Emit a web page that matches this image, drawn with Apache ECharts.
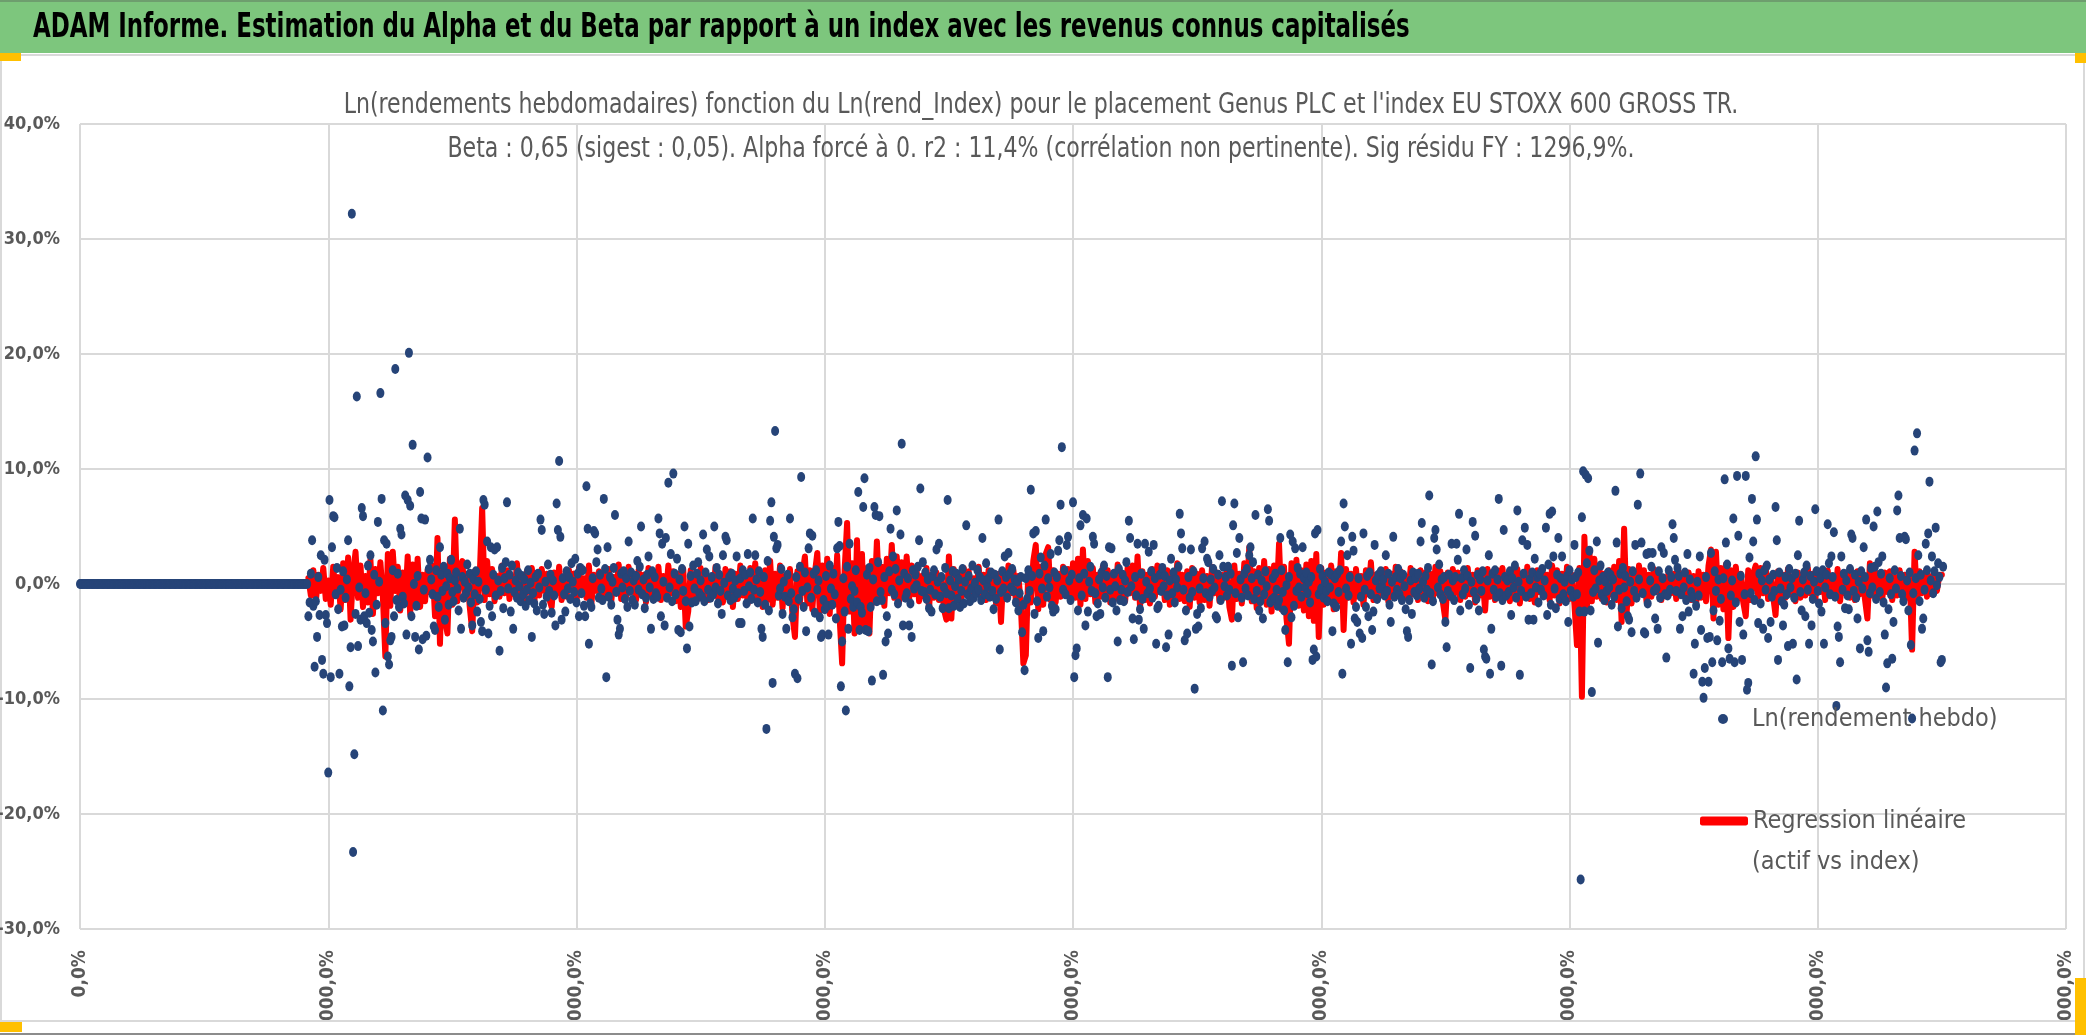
<!DOCTYPE html>
<html><head><meta charset="utf-8">
<script src="https://cdn.jsdelivr.net/npm/echarts/dist/echarts.min.js"></script>
<style>
html,body{margin:0;padding:0;background:#fff;width:2086px;height:1035px;overflow:hidden;}
#chart{position:absolute;left:0;top:0;width:2086px;height:1035px;}
#foot{position:absolute;left:0;top:1020px;width:2086px;height:15px;background:#fff;border-top:2px solid #D9D9D9;border-bottom:2px solid #8C8C8C;box-sizing:border-box;z-index:5;}
#ybl{position:absolute;left:0;top:1022px;width:22px;height:10px;background:#FFC000;z-index:6;}
#ybr{position:absolute;left:2075px;top:978px;width:11px;height:57px;background:#FFC000;z-index:6;}
</style></head><body>
<div id="chart"></div><div id="foot"></div><div id="ybl"></div><div id="ybr"></div>
<script>
const titreBandeau = "ADAM Informe. Estimation du Alpha et du Beta par rapport à un index avec les revenus connus capitalisés";
const sousTitre1 = "Ln(rendements hebdomadaires) fonction du Ln(rend_Index) pour le placement Genus PLC et l'index EU STOXX 600 GROSS TR.";
const sousTitre2 = "Beta : 0,65 (sigest : 0,05). Alpha forcé à 0. r2 : 11,4% (corrélation non pertinente). Sig résidu FY : 1296,9%.";
const nomPoints = "Ln(rendement hebdo)";
const nomRegression = "Regression linéaire (actif vs index)";
const yTicks = [-0.3, -0.2, -0.1, 0, 0.1, 0.2, 0.3, 0.4];
const xTicks = [0, 200, 400, 600, 800, 1000, 1200, 1400, 1600];

// Ln(rendement hebdo) en %, semaine 0 à 1501
const lnRendement = [
0,0,0,0,0,0,0,0,0,0,0,0,0,0,0,0,0,0,0,0,0,0,0,
0,0,0,0,0,0,0,0,0,0,0,0,0,0,0,0,0,0,0,0,0,0,0,
0,0,0,0,0,0,0,0,0,0,0,0,0,0,0,0,0,0,0,0,0,0,0,
0,0,0,0,0,0,0,0,0,0,0,0,0,0,0,0,0,0,0,0,0,0,0,
0,0,0,0,0,0,0,0,0,0,0,0,0,0,0,0,0,0,0,0,0,0,0,
0,0,0,0,0,0,0,0,0,0,0,0,0,0,0,0,0,0,0,0,0,0,0,
0,0,0,0,0,0,0,0,0,0,0,0,0,0,0,0,0,0,0,0,0,0,0,
0,0,0,0,0,0,0,0,0,0,0,0,0,0,0,0,0,0,0,0,0,0,0,
-2.8,-1.6,0.9,3.8,-1.9,-7.2,-1.5,-4.6,0.6,-2.7,2.5,-6.6,-7.8,2.1,-2.7,-3.4,-16.4,7.3,-8.1,3.2,
5.9,5.8,-0.9,1.4,-2.2,-7.8,-0.5,-3.7,1.1,-3.6,-1.2,0.4,3.8,-8.9,-5.5,32.2,-23.3,-14.8,-2.6,16.3,
-5.4,-0.3,-3.1,6.6,5.9,-2.8,-0.8,-3.4,1.6,-2.5,2.5,-4.0,-5.0,0.8,-7.7,-1.8,5.4,0.2,16.6,7.4,
-11.0,3.8,-3.4,3.5,-6.3,-7.0,-4.9,-4.6,1.2,-2.8,18.7,-1.4,0.9,-2.0,4.8,4.3,-1.1,-1.7,7.7,-4.4,
7.3,20.1,6.8,-2.8,12.1,0.0,-4.6,-1.9,0.7,-5.7,8.0,5.7,-4.8,-0.5,5.6,-4.5,11.0,1.3,2.1,0.4,
-0.9,-3.7,-4.0,1.2,-1.1,-2.0,3.2,0.8,-0.6,1.5,-3.1,-0.2,0.9,-1.8,0.5,2.1,-0.7,-1.5,0.3,1.0,
-0.4,-2.3,4.8,-3.9,0.6,-1.2,0.2,-0.8,1.7,-0.3,0.9,-1.6,-3.6,0.4,-0.9,1.1,-2.4,0.2,-1.3,-3.3,
-4.1,7.3,6.9,-0.5,3.7,-4.3,-1.9,3.2,-2.8,0.8,3.0,-1.0,3.2,0.3,-5.8,-0.6,1.4,-2.1,0.5,1.9,
7.1,-0.4,0.8,-2.4,1.6,-3.9,-0.7,0.3,-1.2,1.0,-0.2,-1.5,0.7,-0.9,0.4,-1.9,-0.5,1.2,-1.4,0.1,
-4.6,-0.8,-1.7,0.6,-2.3,0.9,-0.3,5.6,4.7,-1.8,-2.6,0.2,-1.1,1.7,-0.6,0.8,-2.5,0.3,-1.0,-3.6,
7.0,4.7,10.7,4.1,-3.1,0.5,-0.9,-2.4,1.1,-0.4,0.6,-1.3,1.8,0.2,-0.7,2.2,-1.6,0.9,-2.8,1.4,
-0.8,1.2,-1.9,-2.8,8.5,4.8,-5.2,-1.7,-2.0,0.5,4.6,4.4,1.9,3.0,-1.2,0.8,-0.4,-1.4,7.4,1.3,
-8.1,3.2,-1.1,0.6,-1.8,0.2,1.4,6.0,-0.7,-3.1,-4.4,-3.9,0.9,-0.3,1.1,-1.3,0.5,-2.0,3.7,-0.6,
1.0,-1.4,0.3,-1.8,0.7,2.0,-0.5,1.5,5.0,-0.9,0.4,-2.1,-1.2,0.8,2.4,-0.3,-3.9,1.1,-1.3,0.6,
-0.8,-1.1,5.7,4.4,-2.8,3.5,0.2,-3.6,4.0,-1.2,8.8,-0.3,2.6,-1.5,9.6,0.9,-0.9,2.2,-4.0,0.4,
-4.2,1.3,-0.6,5.0,-1.5,-5.6,3.5,-3.7,0.7,-1.6,1.6,-0.4,-1.5,0.9,1.9,-0.8,0.3,-1.1,4.3,-1.5,
1.0,3.0,-0.5,2.4,-1.2,0.6,-0.9,5.0,-0.3,1.4,-1.7,0.8,-0.6,-2.6,2.5,0.1,4.1,3.8,-1.0,0.6,
-1.4,0.9,-0.4,-1.2,0.3,2.4,-0.8,-3.4,0.5,-3.4,1.2,-0.6,0.8,-1.7,2.6,-0.2,1.0,-1.3,5.7,-0.5,
2.5,0.4,-1.6,1.1,-0.7,-3.9,-4.6,0.6,-1.8,-12.6,2.0,-2.3,5.5,7.1,-8.6,4.1,13.3,3.1,3.4,-1.0,
-0.4,1.3,-2.6,0.2,-1.1,-3.9,0.8,-1.5,5.7,-0.8,-2.9,-2.2,-7.8,0.6,-8.2,-1.3,1.5,9.3,-0.6,-2.0,
1.0,-4.1,-0.3,3.1,4.4,-1.2,4.2,0.9,-2.5,1.2,-0.5,0.3,-2.9,-4.6,-4.4,-1.4,-2.2,0.7,-1.9,-4.4,
1.6,-0.4,-1.8,0.9,-0.9,-3.0,3.1,5.4,3.3,-8.9,-5.0,0.5,-2.4,-11.0,1.5,-3.9,3.5,-1.3,-0.2,-2.0,
-0.6,1.2,-1.6,8.0,-4.0,-2.0,-2.5,6.7,9.2,-4.0,0.8,-4.1,1.4,-2.0,-8.4,0.4,6.7,6.0,-1.5,1.9,
5.9,-0.7,-1.4,-7.9,0.6,-5.0,-2.8,-4.3,1.1,4.8,-0.5,2.4,-0.9,1.3,6.4,-1.7,0.3,4.3,12.2,-3.6,
0.9,-1.2,-0.8,0.5,-3.6,-1.7,-4.6,1.2,-0.4,0.8,-0.1,1.5,3.8,8.3,-0.6,1.9,-0.7,1.0,-1.3,0.4,
-2.1,-0.5,-2.4,0.7,1.2,-0.9,3.0,0.2,3.5,-1.1,0.6,-2.1,-0.3,1.4,-0.8,7.3,-2.1,0.3,-1.0,1.1,
-1.9,-0.2,0.9,-1.3,0.4,-2.0,-0.6,1.3,-1.7,0.2,5.1,-0.9,0.7,-1.5,-0.4,1.6,-1.2,0.1,-0.8,1.2,
-0.5,0.6,-1.4,4.0,0.3,-0.9,1.8,-0.2,0.5,-1.1,1.0,-0.6,-2.2,0.8,-1.3,0.3,5.6,-5.7,-0.7,1.1,
-0.4,2.4,0.6,-1.2,2.7,0.9,-0.3,1.3,-0.6,0.4,-1.6,0.2,-2.3,-0.8,0.6,-4.2,-1.8,-7.5,0.5,-1.3,
1.2,-0.6,8.2,0.7,4.4,-2.6,4.6,-1.5,-4.7,0.9,2.3,-0.4,-4.1,1.6,5.6,-1.1,0.5,-0.3,2.6,-1.9,
-2.4,1.0,-2.2,0.6,2.9,3.8,6.9,11.9,-0.5,1.2,-0.9,3.4,4.1,0.3,-1.4,0.8,7.1,-8.1,-6.2,-5.6,
-2.3,0.5,5.1,-1.0,6.0,0.9,-3.6,5.7,-2.4,0.2,1.5,-0.6,4.1,3.5,-0.8,-2.8,-1.7,0.4,-2.6,1.0,
-0.3,1.6,-1.2,0.7,-8.1,3.2,-0.5,3.1,-1.6,0.9,-0.2,-2.3,-5.0,1.3,-1.4,-0.5,0.8,-1.5,0.3,1.9,
-0.7,5.5,4.0,-0.2,-3.0,-4.8,0.6,-1.0,3.5,-3.1,-2.2,0.9,-1.3,-3.9,3.5,0.2,-0.8,2.8,-0.4,1.1,
-1.2,3.4,0.5,-5.2,-2.1,-1.9,0.8,-0.6,1.4,-0.2,0.7,-5.5,-1.0,-4.4,0.3,2.2,-0.8,1.0,-1.6,0.4,
-0.3,1.5,6.1,4.4,3.1,-0.5,-4.9,-2.3,-4.3,0.6,-1.2,3.0,-0.7,1.1,-9.1,-3.9,-2.6,-3.7,-0.4,-2.1,
3.1,0.5,3.7,-0.8,2.2,1.9,-1.1,0.4,-0.6,1.3,-0.3,-2.8,-3.0,0.8,2.5,-1.4,7.2,1.5,-0.2,0.6,
-1.0,1.5,-0.5,0.9,-7.1,5.1,7.0,-0.8,2.7,-2.9,4.0,0.4,-1.2,-6.8,0.9,-0.4,1.3,-1.0,2.5,3.2,
0.5,1.9,-1.3,6.0,-0.6,0.8,-2.3,-1.5,0.3,-3.0,-0.9,1.1,-0.2,6.5,5.5,-1.6,-1.4,0.5,-1.2,0.9,
-0.5,-1.9,-1.4,4.0,1.2,-0.7,-2.3,-4.0,-0.1,-6.8,0.6,4.3,-2.9,3.7,-1.9,3.1,-0.6,1.4,-0.3,0.9,
-1.1,3.2,0.5,-0.3,1.0,-0.8,0.2,-1.6,0.6,-6.6,-5.7,4.4,-6.3,4.7,-0.9,1.3,-0.4,0.7,-1.2,0.2,
-0.6,-1.5,1.0,-0.3,0.8,-4.1,-1.7,0.5,-2.0,0.9,-0.7,1.2,3.7,-7.8,7.0,5.0,-0.4,2.5,-1.0,0.6,
-5.2,4.1,2.9,-3.0,-2.0,-3.3,0.5,-4.3,-1.1,-4.7,4.4,-0.5,-2.0,0.7,-2.8,1.0,-0.9,-4.0,-2.4,3.4,
0.3,-1.3,0.8,-0.4,1.1,-0.2,0.4,-1.0,2.5,-0.6,0.9,-1.8,-3.3,0.2,4.1,-1.1,0.6,-0.5,1.3,-0.9,
0.5,-1.4,0.8,-0.2,-2.2,-4.1,-4.6,-1.4,0.3,-2.6,1.0,-0.7,0.5,-1.0,0.9,-0.4,3.7,5.3,0.2,-1.2,
0.7,-0.5,1.4,7.7,-0.8,-7.0,-1.5,4.0,4.7,3.0,-0.3,1.7,-0.9,0.4,-1.3,0.6,-3.3,-5.5,-0.6,0.8,
-1.0,3.5,0.3,-1.4,0.6,3.5,2.1,6.1,-2.3,0.5,-0.9,1.2,-0.4,3.0,0.7,-1.8,-7.3,0.2,5.4,-0.7,
4.2,-1.3,0.8,-2.3,0.4,-0.6,1.1,-5.7,-6.3,-6.5,0.3,2.5,-7.8,-3.9,0.9,-0.5,1.2,-1.1,0.4,7.4,
-0.8,-7.1,-1.4,4.7,0.6,-1.0,0.3,-0.7,1.1,-2.7,0.5,-0.3,1.6,-1.2,6.4,0.2,-7.9,-0.6,3.8,0.9,
4.9,-1.1,3.4,-3.1,0.4,-0.8,1.0,-3.1,2.2,-0.3,0.6,-1.6,0.9,-0.5,1.3,-1.0,0.3,4.9,-2.7,1.7,
6.1,-1.8,6.3,2.4,-0.4,-2.1,0.8,4.0,-1.3,0.5,2.4,-0.9,0.2,-1.5,0.7,-3.3,1.2,-0.6,0.4,-1.1,
3.4,0.6,-0.9,1.0,-2.4,-25.7,5.8,9.8,-2.4,9.5,1.8,9.2,2.9,-2.3,-9.4,-0.7,1.2,-0.4,3.7,-5.1,
0.3,1.6,-0.9,0.6,-1.4,0.2,-0.6,1.0,-0.3,0.8,-1.8,0.4,-1.1,8.1,3.6,-3.7,-0.5,0.9,-2.1,1.4,
-0.3,0.7,-1.5,-2.8,-3.1,0.2,-4.2,1.1,-0.6,3.4,-1.2,6.9,0.4,9.6,3.6,-0.8,-4.2,-4.3,2.6,-1.7,
2.7,0.3,1.5,2.7,-0.6,-3.0,-0.4,-3.9,1.1,-1.2,3.2,0.5,2.7,-0.9,-6.4,-1.0,1.2,-0.5,0.6,5.2,
4.0,2.1,-0.6,1.4,0.7,-3.9,-0.9,-2.8,-0.3,1.0,-1.4,2.6,-2.4,0.4,-0.7,-1.2,-7.8,-5.2,-1.9,0.2,
-1.0,2.4,-4.0,-8.5,-9.9,-7.3,0.6,-4.7,-8.5,-4.6,2.7,-6.8,-2.3,1.1,-0.6,-4.9,0.4,-3.2,-1.3,-6.8,
0.5,9.1,3.6,1.7,-5.6,-6.5,-1.0,0.3,5.7,-6.8,-1.6,9.4,4.2,-3.3,0.7,-6.6,-4.4,-0.9,9.4,-9.2,
-8.6,2.3,-0.8,7.4,3.7,-1.4,11.1,5.6,-3.4,0.9,-1.7,0.3,-3.9,1.2,-0.5,1.6,-4.7,0.4,-3.3,-1.1,
0.8,-0.6,6.7,3.8,-6.6,1.0,-0.4,-1.5,-3.6,-1.8,0.6,-0.9,-5.4,1.3,-0.3,0.5,-5.2,-1.2,0.9,-8.3,
2.5,5.5,-0.7,-2.3,0.4,1.0,-2.8,1.6,-0.5,-5.2,0.7,-3.6,-1.3,0.2,6.5,1.1,-0.6,-1.7,0.5,-2.4,
1.2,-5.2,-0.3,0.8,5.2,1.8,-0.9,2.4,0.6,4.5,-1.1,-10.6,-3.7,-4.6,-6.8,2.4,-0.5,0.9,-2.1,0.3,
-1.0,-2.2,1.3,4.3,4.0,-0.6,0.8,-1.2,-3.0,0.2,-5.6,1.1,-0.4,3.2,0.6,5.6,-4.9,-5.9,-0.8,1.4,
-0.3,5.0,1.5,-1.3,6.3,1.9,-0.7,0.9,2.4,-1.6,-4.4,-9.0,-6.9,-2.2,0.5,-0.9,-6.5,-3.3,1.2,-0.4,
6.4,7.7,4.0,0.7,-0.9,-1.5,4.1,3.9,0.3,-2.3,1.0,-5.3,-11.7,-0.8,11.6,0.5,13.1,2.5,-1.5,0.8,
-3.9,-3.0,-0.5,3.5,1.2,4.4,8.9,0.3,2.4,-0.8,1.1,4.9,-0.1,1.8,0.6,-6.8,-6.6,1.5
];

// Régression linéaire (beta x Ln(rend_Index)) en %, une valeur toutes les 2 semaines à partir de la semaine 184
const regressionDebut = 184;
const regressionPas = 2;
const regression = [
0.5,-1.0,1.2,-1.5,0.8,-0.6,1.4,-1.3,0.3,-1.8,1.5,-0.9,0.6,-2.2,1.8,-1.4,2.3,-3.1,0.9,2.8,
-1.2,1.6,-2.0,0.7,-1.6,2.1,-2.6,1.3,-0.8,1.9,-1.1,-6.3,2.6,-1.9,2.8,-0.6,1.5,-2.3,1.0,-1.7,
2.4,-2.6,1.7,-1.4,2.2,-2.0,0.8,-1.5,1.2,-0.7,1.6,-2.8,4.0,-5.2,1.5,-3.0,-4.3,2.2,-1.8,5.6,
-1.5,1.4,2.0,-1.2,0.9,-2.0,-4.1,1.1,-1.6,0.6,6.6,-1.4,2.0,-0.9,1.3,-1.5,0.7,-1.1,1.6,-0.8,
1.2,-1.3,0.6,-0.9,1.8,-1.2,0.5,-1.5,1.1,-0.7,1.4,-1.6,0.8,-1.0,1.3,-0.6,0.9,-1.3,-2.0,1.0,
-0.8,1.5,-1.4,0.6,-1.1,1.2,-0.5,0.9,-1.6,1.4,-0.9,0.5,-1.2,1.6,-1.7,0.8,-0.6,1.1,-1.4,0.7,
-1.0,1.3,-1.5,0.6,-0.8,1.7,-1.3,0.4,-1.1,1.5,-0.7,0.9,-1.4,1.2,-0.5,0.8,-1.6,1.4,-0.9,0.6,
-1.2,1.5,-1.4,0.7,-1.0,1.6,-0.8,1.1,-1.5,0.9,-2.0,1.3,-3.7,-2.4,1.2,-1.1,0.8,-1.3,1.4,-0.7,
1.0,-1.4,0.6,-0.9,1.5,-1.2,0.7,-1.6,1.3,-0.8,1.1,-2.0,0.9,-1.3,1.6,-1.0,0.5,-1.7,1.4,-0.9,
1.8,-1.5,0.8,-2.0,1.2,-1.4,2.0,-1.8,0.9,-1.2,1.6,-2.1,0.7,-1.5,1.3,-2.8,-4.6,1.1,-1.6,0.8,
2.4,-1.7,1.2,-2.2,0.9,2.7,-2.4,1.6,-2.0,2.2,-2.6,1.4,-1.8,2.5,-3.0,-6.9,1.2,5.3,-2.4,1.8,
-4.3,3.8,-3.5,2.6,-4.0,1.4,-4.3,2.0,-1.6,3.7,-1.3,1.5,-1.9,2.2,-0.8,3.4,-1.2,2.4,-1.5,1.9,
-1.0,2.4,-1.3,1.6,-0.9,1.2,-1.5,0.7,-1.1,1.4,-2.1,0.8,-1.2,1.0,-1.4,0.6,-2.2,-3.1,2.4,-3.0,
1.3,-1.2,0.9,-1.5,1.4,-0.7,1.1,-1.3,0.5,-0.9,1.5,-1.1,0.8,-1.4,1.2,-0.6,1.0,-1.7,0.9,-3.3,
1.1,-1.3,1.6,-0.8,1.2,-1.5,0.7,-1.9,-6.9,-6.2,1.3,-1.6,2.0,3.4,-2.2,1.5,-1.8,2.6,3.2,-1.4,
1.2,-1.6,0.9,-1.1,1.5,-0.8,1.3,-1.5,1.8,-1.2,2.2,-1.8,3.0,-1.3,2.0,-0.9,1.4,-1.6,0.8,-1.1,
1.5,-0.9,1.2,-1.6,0.7,-1.3,1.7,-1.0,0.9,-1.5,1.4,-0.8,1.6,-1.2,2.4,-2.0,1.1,-1.4,0.8,-1.7,
1.3,-1.1,1.6,-0.7,0.9,-1.4,1.2,-1.8,0.6,-1.0,1.8,-1.3,0.8,-1.5,1.1,-2.0,1.4,-1.2,0.9,-1.6,
1.2,-1.4,0.7,-1.9,1.5,-0.8,1.0,-1.5,0.8,-1.2,1.3,-2.0,-3.1,1.6,-1.3,0.9,-1.7,1.8,-1.0,3.2,
-1.5,1.1,-2.1,1.4,-1.2,2.0,-1.8,1.3,-2.4,1.6,-1.4,3.5,-2.2,1.5,-3.0,-5.2,1.8,-1.6,2.1,-1.9,
1.2,-2.3,1.7,-2.8,2.0,-3.2,2.6,-4.6,1.4,-1.8,1.0,-1.4,1.6,-2.2,1.1,-1.5,2.7,-4.0,1.3,-1.2,
0.9,-1.6,1.3,-1.1,0.7,-1.8,1.2,-0.9,1.9,-1.4,0.8,-1.2,1.1,-0.6,1.3,-1.5,0.9,-1.0,1.5,-0.8,
1.1,-1.3,0.6,-1.1,1.4,-0.9,0.8,-1.4,1.2,-0.7,1.0,-1.5,0.9,-1.2,1.5,-0.8,1.1,-1.6,-3.1,1.0,
-1.2,1.3,-0.8,1.0,-1.4,0.7,-1.1,1.4,-0.9,0.8,-1.6,1.2,-1.0,0.6,-2.3,1.3,-1.1,0.9,-1.4,1.2,
-0.8,1.4,-1.2,0.7,-1.5,1.1,-0.9,1.3,-1.7,0.8,-1.0,1.5,-1.3,0.9,-1.6,1.2,-0.7,1.4,-1.1,0.8,
-1.4,1.6,-1.0,1.2,-1.7,0.9,-1.2,1.5,-1.3,0.8,-1.8,-5.3,1.4,-9.8,4.1,-2.0,2.9,-1.5,2.2,-1.1,
1.6,-1.3,0.9,-1.6,1.2,-0.9,1.5,-1.4,2.0,-3.3,4.8,-2.6,1.3,-1.7,1.0,-1.2,1.6,-0.9,1.2,-1.5,
0.8,-1.1,1.3,-0.7,1.0,-1.4,0.6,-1.0,1.2,-0.8,0.9,-1.3,1.1,-0.6,0.8,-1.2,1.0,-1.4,0.7,-1.7,
1.1,-1.2,0.8,-1.5,1.6,3.0,-3.0,2.8,-1.8,1.4,-2.2,1.7,-4.7,1.2,-2.0,1.5,-1.3,0.9,-1.6,-2.8,
1.2,-1.4,0.9,1.6,-1.1,1.4,-0.8,1.6,-1.3,0.7,-1.0,-2.7,1.1,-1.4,0.8,-1.2,1.3,-0.9,0.6,-1.5,
1.0,-1.2,0.7,-1.0,1.4,-0.8,0.9,-1.3,1.1,-0.7,0.8,-1.4,1.2,-0.9,0.6,-1.1,1.3,-1.5,0.9,-0.8,
1.0,-1.2,0.7,-1.4,1.1,-0.9,0.8,-1.3,-3.0,1.8,-1.0,1.2,-0.8,0.9,-1.3,1.0,-0.7,1.1,-1.4,0.6,
-1.0,1.2,-0.9,0.8,-1.2,1.0,-5.7,2.8,-1.3,1.1,-0.8,0.9,-1.1,0.7,-0.9,1.2,-0.6,0.8,0.8
];

const FONT = '"DejaVu Sans Condensed", "Liberation Sans Narrow", "Liberation Sans", sans-serif';
const pct = v => (Math.round(v * 1000) / 10).toFixed(1).replace('.', ',') + '%';

const pointsData = lnRendement.map((v, i) => [i, v / 100]);
const regData = regression.map((v, k) => [regressionDebut + regressionPas * k, v / 100]);

const chart = echarts.init(document.getElementById('chart'), null, {renderer: 'canvas'});
chart.setOption({
  animation: false,
  backgroundColor: '#ffffff',
  graphic: [
    {type: 'rect', z: 0, shape: {x: 0, y: 0, width: 2086, height: 53}, style: {fill: '#7DC67D'}},
    {type: 'rect', z: 0, shape: {x: 0, y: 0, width: 2086, height: 2}, style: {fill: '#6E9E6E'}},
    {type: 'rect', z: 0, shape: {x: 1, y: 55, width: 2083, height: 966}, style: {fill: 'none', stroke: '#D9D9D9', lineWidth: 2}},
    {type: 'rect', z: 1, shape: {x: 0, y: 53, width: 21, height: 8}, style: {fill: '#FFC000'}},
    {type: 'rect', z: 1, shape: {x: 2075, y: 53, width: 11, height: 10}, style: {fill: '#FFC000'}},
    {type: 'text', z: 10, x: 33, y: 28, scaleX: 0.772,
     style: {text: titreBandeau, font: 'bold 33px ' + FONT, fill: '#000000', textAlign: 'left', textVerticalAlign: 'middle'}},
    {type: 'text', z: 10, x: 1041, y: 106, scaleX: 0.876,
     style: {text: sousTitre1, font: '28px ' + FONT, fill: '#595959', textAlign: 'center', textVerticalAlign: 'middle'}},
    {type: 'text', z: 10, x: 1041, y: 150, scaleX: 0.876,
     style: {text: sousTitre2, font: '28px ' + FONT, fill: '#595959', textAlign: 'center', textVerticalAlign: 'middle'}},
    {type: 'text', z: 10, x: 1752, y: 862,
     style: {text: '(actif vs index)', font: '25px ' + FONT, fill: '#595959', textAlign: 'left', textVerticalAlign: 'middle'}}
  ],
  legend: [
    {data: [{name: nomPoints, icon: 'circle', itemStyle: {color: '#264478'}}],
     left: 1718, top: 704, padding: 0, itemWidth: 10, itemHeight: 10, selectedMode: false,
     textStyle: {fontFamily: FONT, fontSize: 25, color: '#595959', lineHeight: 30, padding: [0, 0, 0, 19]}},
    {data: [{name: nomRegression, icon: 'roundRect', itemStyle: {color: '#FF0000'}}],
     left: 1700, top: 806, padding: 0, itemWidth: 48, itemHeight: 9, selectedMode: false,
     formatter: () => 'Regression linéaire',
     textStyle: {fontFamily: FONT, fontSize: 25, color: '#595959', lineHeight: 30}}
  ],
  grid: {left: 80, right: 20, top: 124, bottom: 106, containLabel: false, outerBoundsMode: 'none'},
  xAxis: {
    type: 'value', min: xTicks[0], max: xTicks[xTicks.length - 1], interval: xTicks[1] - xTicks[0],
    axisLine: {show: false}, axisTick: {show: false},
    splitLine: {show: true, lineStyle: {color: '#D9D9D9', width: 2}},
    axisLabel: {rotate: 90, margin: 21, formatter: pct, fontFamily: FONT, fontSize: 19, fontWeight: 'bold', color: '#595959'}
  },
  yAxis: {
    type: 'value', min: yTicks[0], max: yTicks[yTicks.length - 1], interval: 0.1,
    axisLine: {show: false}, axisTick: {show: false},
    splitLine: {show: true, lineStyle: {color: '#D9D9D9', width: 2}},
    axisLabel: {margin: 20, formatter: pct, fontFamily: FONT, fontSize: 18, fontWeight: 'bold', color: '#595959'}
  },
  series: [
    {name: nomRegression, type: 'line', data: regData, symbol: 'none', showSymbol: false, z: 2,
     lineStyle: {color: '#FF0000', width: 6, join: 'round', cap: 'round'}, itemStyle: {color: '#FF0000'}},
    {name: nomPoints, type: 'scatter', data: pointsData, symbol: 'circle', symbolSize: [8, 10], z: 3,
     itemStyle: {color: '#264478', opacity: 1}}
  ]
});
</script>
</body></html>
